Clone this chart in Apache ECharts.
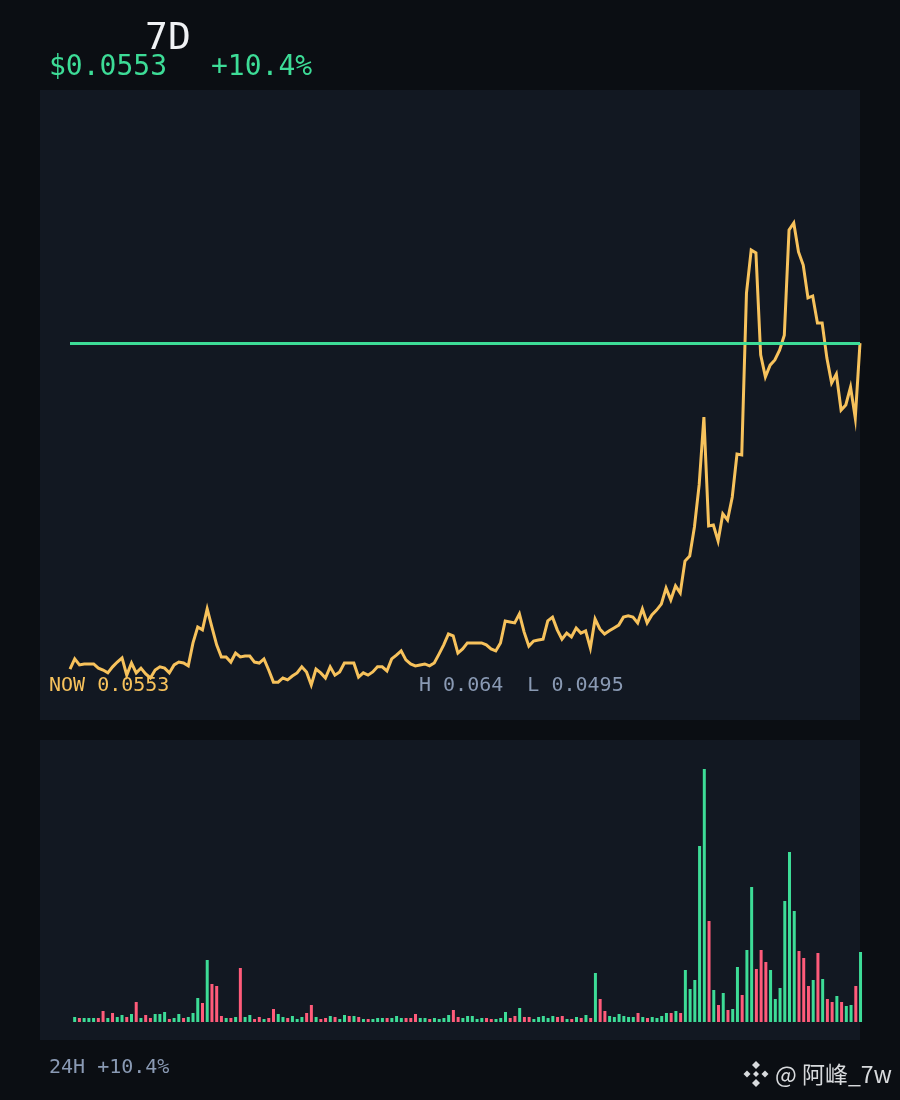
<!DOCTYPE html>
<html>
<head>
<meta charset="utf-8">
<script src="https://cdn.jsdelivr.net/npm/echarts@6/dist/echarts.min.js"></script>
<style>
  html, body { margin: 0; padding: 0; background: #0b0e13; }
  #chart { width: 900px; height: 1100px; }
</style>
</head>
<body>
<div id="chart"></div>
<script>
// ---- data ----
const periodLabel = '7D';
const priceText = '$0.0553';
const changeText = '+10.4%';
const nowText = 'NOW 0.0553';
const highLowText = 'H 0.064  L 0.0495';
const dayText = '24H +10.4%';
const watermarkText = '@ 阿峰_7w';

const priceLow = 0.0495;
const priceHigh = 0.064;

const prices = [
  0.05000, 0.05032, 0.05013, 0.05016, 0.05016, 0.05016, 0.05003, 0.04997, 0.04988, 0.05007,
  0.05022, 0.05035, 0.04981, 0.05019, 0.04988, 0.05003, 0.04985, 0.04972, 0.04997, 0.05007,
  0.05003, 0.04988, 0.05013, 0.05022, 0.05019, 0.05010, 0.05082, 0.05132, 0.05123, 0.05189,
  0.05132, 0.05076, 0.05038, 0.05038, 0.05022, 0.05050, 0.05038, 0.05041, 0.05041, 0.05022,
  0.05019, 0.05032, 0.04997, 0.04959, 0.04959, 0.04972, 0.04966, 0.04978, 0.04988, 0.05007,
  0.04991, 0.04950, 0.05000, 0.04988, 0.04972, 0.05007, 0.04981, 0.04991, 0.05019, 0.05019,
  0.05019, 0.04975, 0.04988, 0.04981, 0.04991, 0.05007, 0.05007, 0.04994, 0.05032, 0.05044,
  0.05057, 0.05029, 0.05016, 0.05010, 0.05013, 0.05016, 0.05010, 0.05019, 0.05047, 0.05076,
  0.05110, 0.05104, 0.05050, 0.05063, 0.05082, 0.05082, 0.05082, 0.05082, 0.05076, 0.05063,
  0.05057, 0.05082, 0.05151, 0.05148, 0.05145, 0.05173, 0.05116, 0.05072, 0.05088, 0.05091,
  0.05094, 0.05151, 0.05163, 0.05123, 0.05094, 0.05113, 0.05101, 0.05129, 0.05113, 0.05120,
  0.05066, 0.05157, 0.05126, 0.05110, 0.05120, 0.05129, 0.05138, 0.05163, 0.05167, 0.05163,
  0.05145, 0.05189, 0.05145, 0.05170, 0.05185, 0.05204, 0.05254, 0.05217, 0.05261, 0.05239,
  0.05339, 0.05355, 0.05446, 0.05578, 0.05791, 0.05449, 0.05452, 0.05402, 0.05487, 0.05468,
  0.05540, 0.05675, 0.05672, 0.06180, 0.06315, 0.06306, 0.05986, 0.05917, 0.05954, 0.05970,
  0.06001, 0.06048, 0.06378, 0.06400, 0.06309, 0.06268, 0.06165, 0.06171, 0.06086, 0.06086,
  0.05976, 0.05898, 0.05926, 0.05813, 0.05829, 0.05885, 0.05788, 0.06023
];

const volumes = [
  5, 4, 4, 4, 4, 4, 11, 4, 9, 5,
  7, 5, 8, 20, 4, 7, 4, 8, 8, 10,
  3, 4, 8, 4, 5, 9, 24, 19, 62, 38,
  36, 6, 4, 4, 5, 54, 5, 7, 3, 5,
  3, 4, 13, 8, 5, 4, 6, 3, 5, 9,
  17, 5, 3, 4, 6, 5, 3, 7, 6, 6,
  5, 3, 3, 3, 4, 4, 4, 4, 6, 4,
  4, 4, 8, 4, 4, 3, 4, 3, 4, 7,
  12, 5, 4, 6, 6, 3, 4, 4, 3, 3,
  4, 10, 4, 6, 14, 5, 5, 3, 5, 6,
  4, 6, 5, 6, 3, 3, 5, 4, 7, 4,
  49, 23, 11, 6, 5, 8, 6, 5, 5, 9,
  5, 4, 5, 4, 6, 9, 9, 11, 9, 52,
  33, 42, 176, 253, 101, 32, 17, 29, 12, 13,
  55, 27, 72, 135, 53, 72, 60, 52, 23, 34,
  121, 170, 111, 71, 64, 36, 42, 69, 43, 23,
  20, 26, 20, 16, 17, 36, 70
];

// 'g' = up candle, 'r' = down candle
const volumeDir = (
  'grgggrrgrg' + 'grgrgrrggg' + 'rggrgggrgr' + 'rrgrgrggrr' +
  'grrggrgggr' + 'rgrrgrggrg' + 'rgrgggrggg' + 'rrrggrgggg' +
  'rrgggggrrg' + 'ggrrgrrggg' + 'ggrrgrgrgr' + 'grrggggggr' +
  'grgggg' + 'rgrg' + 'ggggrgrgrg' + 'grggrrrggg' + 'gggrrrgrgr' +
  'rgrggrg'
).split('');

// ---- styles ----
const BG = '#0b0e13';
const PANEL = '#121822';
const GREEN = '#3ddc97';
const RED = '#ff5b7a';
const ORANGE = '#f7c25c';
const GRAY = '#8a9ab4';
const MONO = '"DejaVu Sans Mono", "Liberation Mono", monospace';

const lineCats = prices.map((_, i) => i);
const volCats = volumes.map((_, i) => i);
const volData = volumes.map((v, i) => ({
  value: v,
  itemStyle: { color: volumeDir[i] === 'r' ? RED : GREEN }
}));

const chart = echarts.init(document.getElementById('chart'), null, { renderer: 'canvas', width: 900, height: 1100 });

function txt(x, y, text, size, color, family) {
  return {
    type: 'text', x: x, y: y, z: 10,
    style: { text: text, fill: color, font: size + 'px ' + (family || MONO), align: 'left', verticalAlign: 'middle' }
  };
}

function diamond(cx, cy, r, color) {
  return { type: 'polygon', z: 10, shape: { points: [[cx, cy - r], [cx + r, cy], [cx, cy + r], [cx - r, cy]] }, style: { fill: color } };
}

const option = {
  backgroundColor: BG,
  animation: false,
  graphic: [
    { type: 'rect', z: -10, shape: { x: 40, y: 90, width: 820, height: 630 }, style: { fill: PANEL } },
    { type: 'rect', z: -10, shape: { x: 40, y: 740, width: 820, height: 300 }, style: { fill: PANEL } },
    txt(145, 39, periodLabel, 38, '#f0f2f5'),
    txt(49, 68, priceText, 28, GREEN),
    txt(211, 68, changeText, 28, GREEN),
    txt(49, 686, nowText, 20, ORANGE),
    txt(419, 686, highLowText, 20, GRAY),
    txt(49, 1068, dayText, 20, GRAY),
    diamond(756, 1065, 4, '#d8dadd'),
    diamond(756, 1083, 4, '#d8dadd'),
    diamond(747, 1074, 3.5, '#d8dadd'),
    diamond(765, 1074, 3.5, '#d8dadd'),
    diamond(756, 1074, 3, '#d8dadd'),
    txt(775, 1074, watermarkText, 23, '#d8dadd', '"Noto Sans CJK SC", "Noto Sans", sans-serif')
  ],
  grid: [
    { left: 70, right: 40, top: 223, height: 462 },
    { left: 72.3, right: 37.1, top: 769, height: 253 }
  ],
  xAxis: [
    { type: 'category', gridIndex: 0, data: lineCats, boundaryGap: false, show: false },
    { type: 'category', gridIndex: 1, data: volCats, boundaryGap: true, show: false }
  ],
  yAxis: [
    { type: 'value', gridIndex: 0, min: priceLow, max: priceHigh, show: false, splitLine: { show: false } },
    { type: 'value', gridIndex: 1, min: 0, max: 253, show: false, splitLine: { show: false } }
  ],
  series: [
    {
      type: 'line', xAxisIndex: 0, yAxisIndex: 0, data: prices,
      symbol: 'none', smooth: false, clip: false,
      lineStyle: { color: ORANGE, width: 3, join: 'miter' },
      z: 3,
      markLine: {
        silent: true, symbol: 'none', animation: false, precision: 6,
        label: { show: false },
        lineStyle: { color: GREEN, width: 3, type: 'solid' },
        data: [{ yAxis: prices[prices.length - 1] }]
      }
    },
    {
      type: 'bar', xAxisIndex: 1, yAxisIndex: 1, data: volData,
      barWidth: 3, clip: false
    }
  ]
};
chart.setOption(option);
</script>
</body>
</html>
